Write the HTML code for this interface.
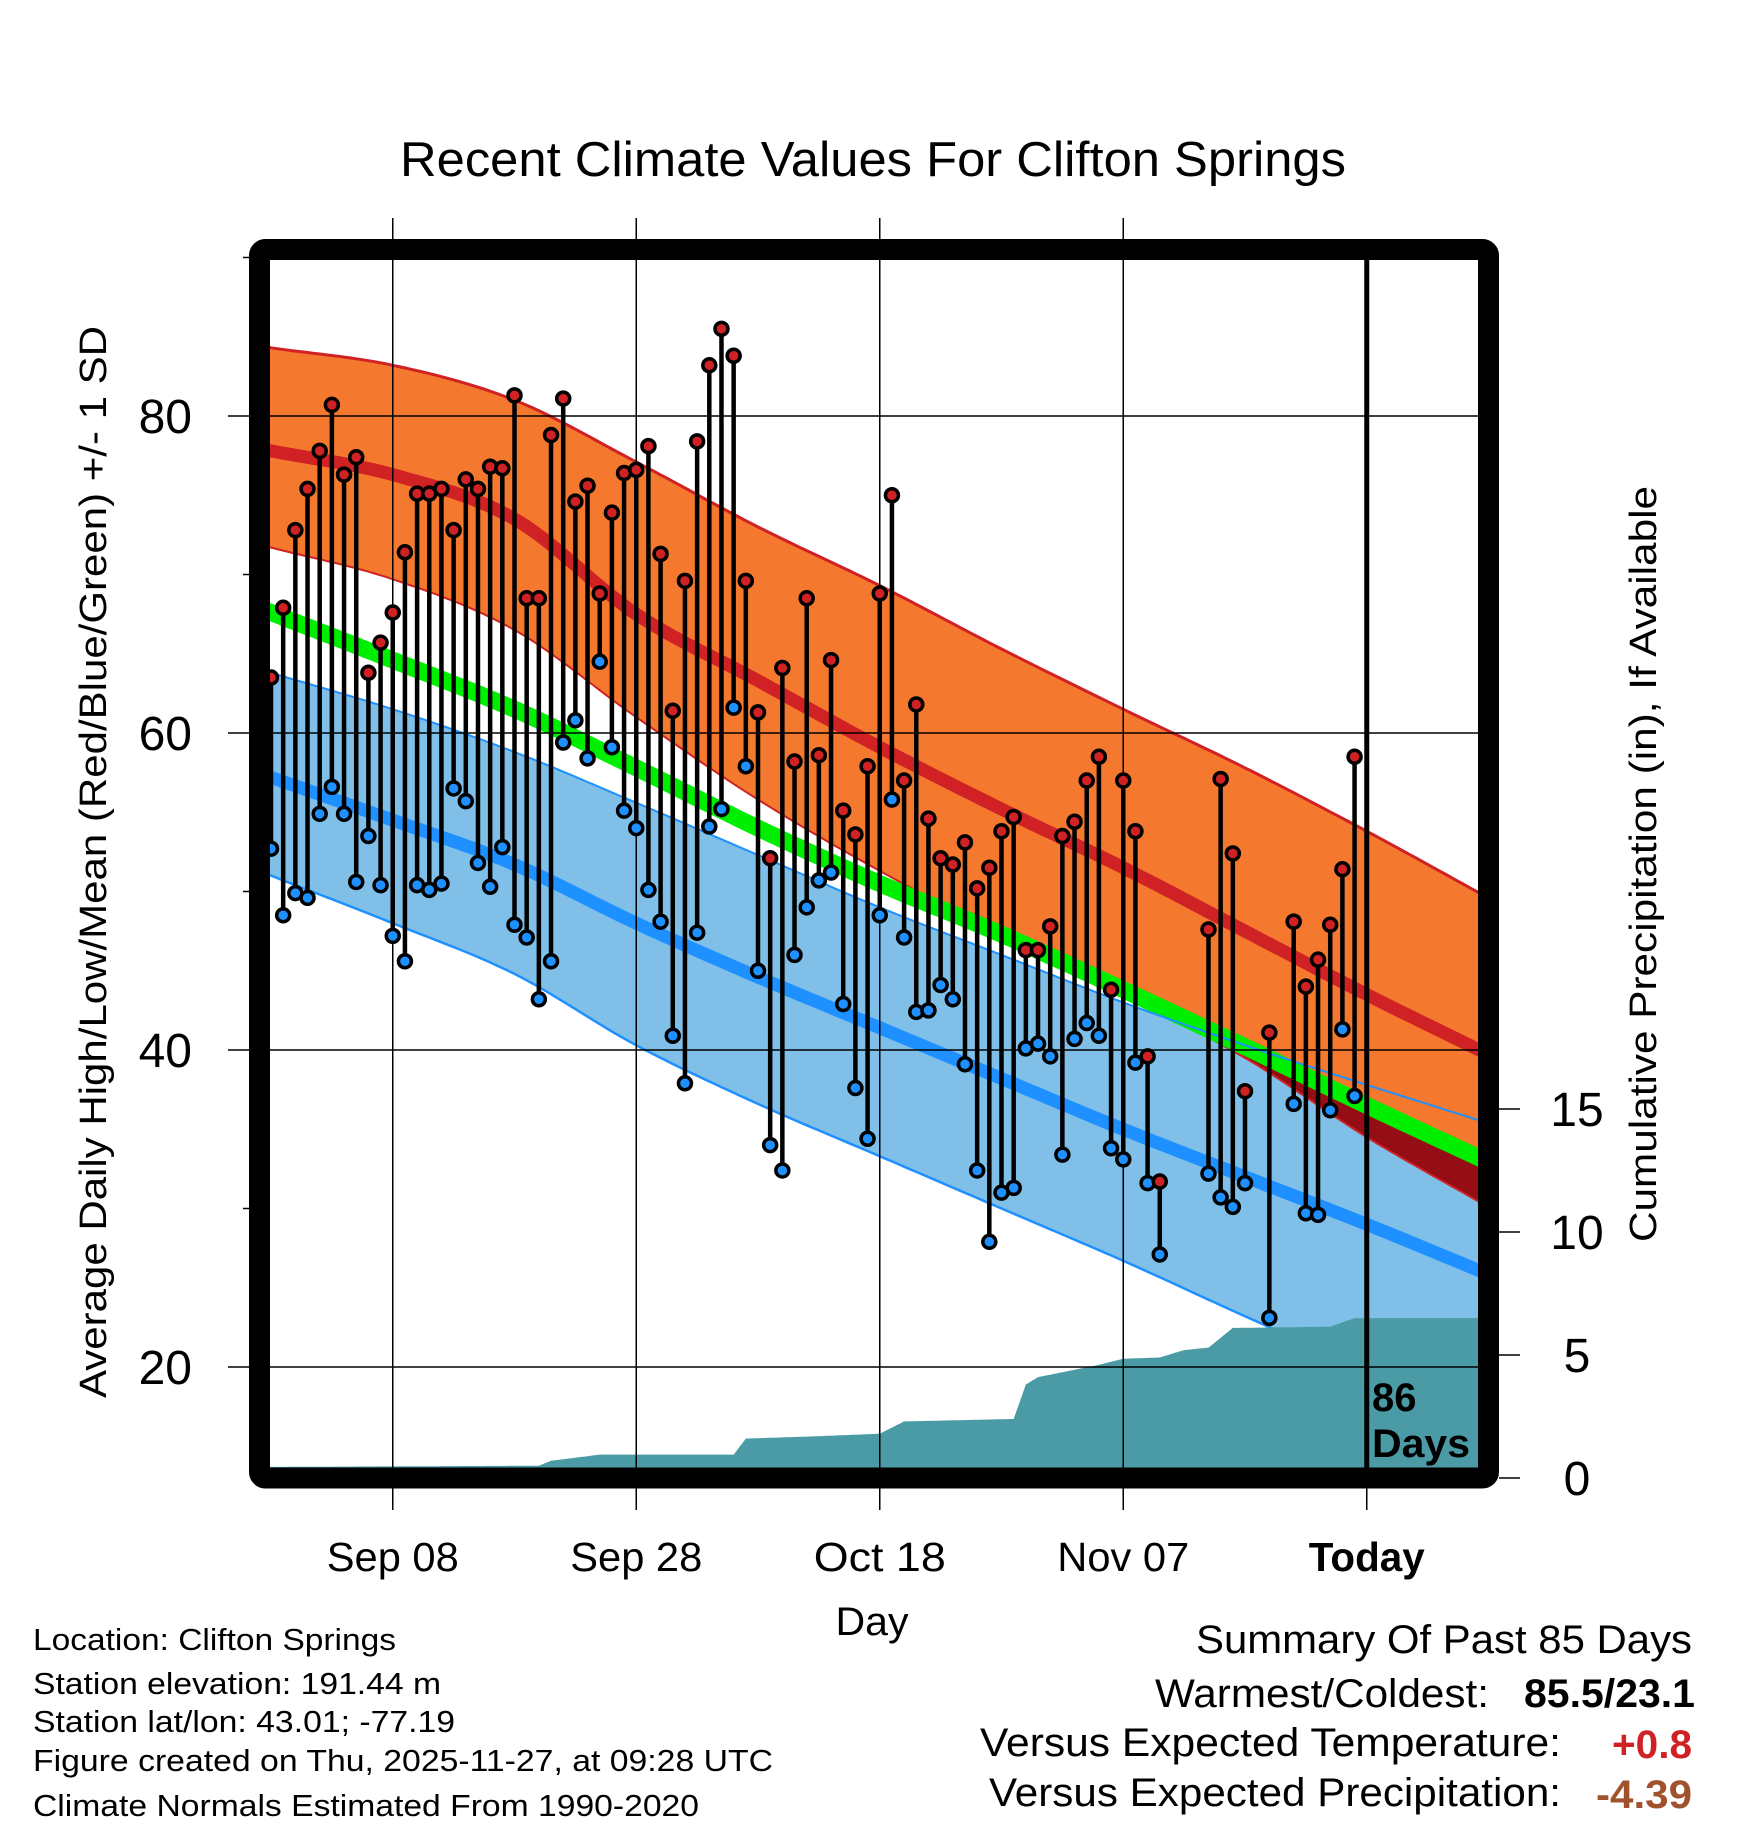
<!DOCTYPE html>
<html><head><meta charset="utf-8"><style>
html,body{margin:0;padding:0;background:#fff}
svg{display:block;font-family:"Liberation Sans",sans-serif}
</style></head><body>
<svg id="chart" width="1748" height="1828" viewBox="0 0 1748 1828" xmlns="http://www.w3.org/2000/svg">
<defs><clipPath id="plotclip"><rect x="270" y="260" width="1208" height="1208"/></clipPath></defs>
<rect width="1748" height="1828" fill="#fff"/>
<text x="873" y="176" font-size="49" text-anchor="middle" textLength="946" lengthAdjust="spacingAndGlyphs">Recent Climate Values For Clifton Springs</text>
<g id="bands" clip-path="url(#plotclip)"></g>
<g id="grid"></g>
<g id="marks" clip-path="url(#plotclip)"></g>
<g id="axes"></g>
<text transform="translate(106,862) rotate(-90)" font-size="38" text-anchor="middle" textLength="1072" lengthAdjust="spacingAndGlyphs">Average Daily High/Low/Mean (Red/Blue/Green) +/- 1 SD</text>
<text transform="translate(1656,864) rotate(-90)" font-size="38" text-anchor="middle" textLength="756" lengthAdjust="spacingAndGlyphs">Cumulative Precipitation (in), If Available</text>
<text x="872" y="1635" font-size="40" text-anchor="middle" textLength="73" lengthAdjust="spacingAndGlyphs">Day</text>
<g font-size="31">
<text x="33" y="1650" textLength="363" lengthAdjust="spacingAndGlyphs">Location: Clifton Springs</text>
<text x="33" y="1694" textLength="408" lengthAdjust="spacingAndGlyphs">Station elevation: 191.44 m</text>
<text x="33" y="1732" textLength="422" lengthAdjust="spacingAndGlyphs">Station lat/lon: 43.01; -77.19</text>
<text x="33" y="1771" textLength="740" lengthAdjust="spacingAndGlyphs">Figure created on Thu, 2025-11-27, at 09:28 UTC</text>
<text x="33" y="1816" textLength="666" lengthAdjust="spacingAndGlyphs">Climate Normals Estimated From 1990-2020</text>
</g>
<g font-size="40">
<text x="1196" y="1653" textLength="496" lengthAdjust="spacingAndGlyphs">Summary Of Past 85 Days</text>
<text x="1155" y="1707" textLength="334" lengthAdjust="spacingAndGlyphs">Warmest/Coldest:</text>
<text x="1524" y="1707" font-weight="bold" textLength="171" lengthAdjust="spacingAndGlyphs">85.5/23.1</text>
<text x="980" y="1756" textLength="581" lengthAdjust="spacingAndGlyphs">Versus Expected Temperature:</text>
<text x="1612" y="1758" font-weight="bold" fill="#d02224" textLength="80" lengthAdjust="spacingAndGlyphs">+0.8</text>
<text x="989" y="1806" textLength="572" lengthAdjust="spacingAndGlyphs">Versus Expected Precipitation:</text>
<text x="1596" y="1808" font-weight="bold" fill="#a0522d" textLength="96" lengthAdjust="spacingAndGlyphs">-4.39</text>
</g>
</svg>
<script>
const obsDays = [0,1,2,3,4,5,6,7,8,9,10,11,12,13,14,15,16,17,18,19,20,21,22,23,24,25,26,27,28,29,30,31,32,33,34,35,36,37,38,39,40,41,42,43,44,45,46,47,48,49,50,51,52,53,54,55,56,57,58,59,60,61,62,63,64,65,66,67,68,69,70,71,72,73,77,78,79,80,82,84,85,86,87,88,89];
const highs = [63.5,67.9,72.8,75.4,77.8,80.7,76.3,77.4,63.8,65.7,
67.6,71.4,75.1,75.1,75.4,72.8,76.0,75.4,76.8,76.7,
81.3,68.5,68.5,78.8,81.1,74.6,75.6,68.8,73.9,76.4,
76.6,78.1,71.3,61.4,69.6,78.4,83.2,85.5,83.8,69.6,
61.3,52.1,64.1,58.2,68.5,58.6,64.6,55.1,53.6,57.9,
68.8,75.0,57.0,61.8,54.6,52.1,51.7,53.1,50.2,51.5,
53.8,54.7,46.3,46.3,47.8,53.5,54.4,57.0,58.5,43.8,
57.0,53.8,39.6,31.7,
47.6,57.1,52.4,37.4,41.1,48.1,44.0,45.7,47.9,51.4,58.5];
const lows = [52.7,48.5,49.9,49.6,54.9,56.6,54.9,50.6,53.5,50.4,
47.2,45.6,50.4,50.1,50.5,56.5,55.7,51.8,50.3,52.8,
47.9,47.1,43.2,45.6,59.4,60.8,58.4,64.5,59.1,55.1,
54.0,50.1,48.1,40.9,37.9,47.4,54.1,55.2,61.6,57.9,
45.0,34.0,32.4,46.0,49.0,50.7,51.2,42.9,37.6,34.4,
48.5,55.8,47.1,42.4,42.5,44.1,43.2,39.1,32.4,27.9,
31.0,31.3,40.1,40.4,39.6,33.4,40.7,41.7,40.9,33.8,
33.1,39.2,31.6,27.1,
32.2,30.7,30.1,31.6,23.1,36.6,29.7,29.6,36.2,41.3,37.1];
const normDays = [0,10,20,30,40,50,60,70,80,90,99.5];
const highPlusSD = [84.3,83.2,81.0,77.1,73.0,69.3,65.3,61.5,57.8,53.8,49.8];
const highMean = [77.8,76.3,73.5,67.5,63.3,59.1,55.2,51.5,47.5,43.5,39.9];
const highMinusSD = [71.7,69.7,66.5,61.0,55.8,51.3,47.3,43.5,39.5,34.5,30.3];
const meanTemp = [67.6,64.6,61.5,57.8,54.0,50.5,47.3,43.8,40.2,36.5,33.1];
const lowPlusSD = [63.8,61.5,58.8,55.6,52.3,49.0,46.0,43.0,40.3,37.8,35.5];
const lowMean = [57.2,54.5,51.7,48.0,44.6,41.4,38.2,35.0,32.0,29.0,26.0];
const lowMinusSD = [51.0,48.0,44.8,40.3,36.6,33.3,30.0,26.7,23.2,19.8,16.6];
const precipDays = [0,22,23,27,38,39,45,50,52,61,62,63,65,68,70,73,75,77,79,87,89,99.5];
const precipVals = [0.45,0.5,0.7,0.95,0.95,1.6,1.7,1.8,2.3,2.4,3.8,4.1,4.3,4.6,4.85,4.9,5.2,5.3,6.1,6.15,6.5,6.5];
const xTickDays = [10,30,50,70,90];
const xTickLabels = ["Sep 08","Sep 28","Oct 18","Nov 07","Today"];
const yTicks = [20,40,60,80];
const yMinor = [30,50,70,90];
const pTicks = [0,5,10,15];

const NS="http://www.w3.org/2000/svg";
const X = d => 271 + d*12.175;
const Y = t => 416 + (80-t)*15.85;
const P = p => 1478 - p*24.6;
function mk(tag, attrs, parent){const e=document.createElementNS(NS,tag);for(const k in attrs)e.setAttribute(k,attrs[k]);parent.appendChild(e);return e;}
function interp(ds, vs, d){
  if(d<=ds[0])return vs[0];
  for(let i=1;i<ds.length;i++){if(d<=ds[i]){const f=(d-ds[i-1])/(ds[i]-ds[i-1]);return vs[i-1]+f*(vs[i]-vs[i-1]);}}
  return vs[vs.length-1];
}
function smooth(ds, vs, d){
  const n=ds.length;
  let i=1; while(i<n-1 && d>ds[i]) i++;
  const i0=i-1,i1=i;
  const t=Math.max(0,Math.min(1,(d-ds[i0])/(ds[i1]-ds[i0])));
  const slope=k=>{if(k<=0)return (vs[1]-vs[0])/(ds[1]-ds[0]);if(k>=n-1)return (vs[n-1]-vs[n-2])/(ds[n-1]-ds[n-2]);return (vs[k+1]-vs[k-1])/(ds[k+1]-ds[k-1]);};
  const h=ds[i1]-ds[i0];
  const m0=slope(i0)*h,m1=slope(i1)*h;
  const t2=t*t,t3=t2*t;
  let v=(2*t3-3*t2+1)*vs[i0]+(t3-2*t2+t)*m0+(-2*t3+3*t2)*vs[i1]+(t3-t2)*m1;
  if(d<ds[0]) v=vs[0]+slope(0)*(d-ds[0]);
  if(d>ds[n-1]) v=vs[n-1]+slope(n-1)*(d-ds[n-1]);
  return v;
}
const samp=[];for(let d=-1;d<=100;d+=0.5)samp.push(d);
function line(arr){return samp.map(d=>[X(d),Y(smooth(normDays,arr,d))]);}
function ptsStr(a){return a.map(p=>p[0].toFixed(1)+","+p[1].toFixed(1)).join(" ");}
function band(top,bot){return ptsStr(line(top).concat(line(bot).reverse()));}

const bands=document.getElementById('bands');
let e;
e=mk('polygon',{points:band(lowPlusSD,lowMinusSD),fill:'#80c0e8'},bands);

e=mk('polygon',{points:band(highPlusSD,highMinusSD),fill:'#f4792e'},bands);

const dr=samp.map(d=>{const g=smooth(normDays,meanTemp,d),l=smooth(normDays,highMinusSD,d);return [X(d),Y(Math.min(g,l)),Y(g)];});
e=mk('polygon',{points:dr.map(p=>p[0].toFixed(1)+","+p[2].toFixed(1)).join(" ")+" "+dr.slice().reverse().map(p=>p[0].toFixed(1)+","+p[1].toFixed(1)).join(" "),fill:'#950e15'},bands);

e=mk('polyline',{points:ptsStr(line(highPlusSD)),fill:'none',stroke:'#d02224','stroke-width':3},bands);

e=mk('polyline',{points:ptsStr(line(highMinusSD)),fill:'none',stroke:'#d02224','stroke-width':2},bands);

e=mk('polyline',{points:ptsStr(line(meanTemp)),fill:'none',stroke:'#00ee00','stroke-width':17},bands);

e=mk('polyline',{points:ptsStr(line(lowPlusSD)),fill:'none',stroke:'#1e90ff','stroke-width':2},bands);

e=mk('polyline',{points:ptsStr(line(lowMinusSD)),fill:'none',stroke:'#1e90ff','stroke-width':2.5},bands);

e=mk('polyline',{points:ptsStr(line(highMean)),fill:'none',stroke:'#d02224','stroke-width':13},bands);

e=mk('polyline',{points:ptsStr(line(lowMean)),fill:'none',stroke:'#1e90ff','stroke-width':13},bands);

let pp=[];for(let d=-1;d<=100;d+=0.25)pp.push([X(d),P(interp(precipDays,precipVals,d))]);
pp.push([X(100),1500]);pp.push([X(-1),1500]);
e=mk('polygon',{points:ptsStr(pp),fill:'#4a9ba5'},bands);


const grid=document.getElementById('grid');
yTicks.forEach(t=>{e=mk('line',{x1:228,x2:1478,y1:Y(t),y2:Y(t),stroke:'#000','stroke-width':1.5},grid);
});
xTickDays.forEach((d,i)=>{if(i<4){e=mk('line',{x1:X(d),x2:X(d),y1:218,y2:1510,stroke:'#000','stroke-width':1.5},grid);
}});

const marks=document.getElementById('marks');
obsDays.forEach((d,i)=>{
  e=mk('line',{x1:X(d),x2:X(d),y1:Y(highs[i]),y2:Y(lows[i]),stroke:'#000','stroke-width':4.5},marks);
  
});
obsDays.forEach((d,i)=>{
  e=mk('circle',{cx:X(d),cy:Y(lows[i]),r:6.5,fill:'#1e90ff',stroke:'#000','stroke-width':3.5},marks);
  
  e=mk('circle',{cx:X(d),cy:Y(highs[i]),r:6.5,fill:'#d02224',stroke:'#000','stroke-width':3.5},marks);
  
});

const axes=document.getElementById('axes');
e=mk('line',{x1:X(90),x2:X(90),y1:260,y2:1468,stroke:'#000','stroke-width':5},axes);

e=mk('line',{x1:X(90),x2:X(90),y1:1478,y2:1510,stroke:'#000','stroke-width':1.5},axes);

e=mk('text',{x:1372,y:1411,'font-size':40,'font-weight':'bold'},axes);e.textContent='86';

e=mk('text',{x:1372,y:1457,'font-size':40,'font-weight':'bold',textLength:98,lengthAdjust:'spacingAndGlyphs'},axes);e.textContent='Days';

e=mk('rect',{x:259.5,y:249.5,width:1229,height:1228.5,rx:6,fill:'none',stroke:'#000','stroke-width':21},axes);

yTicks.forEach(t=>{e=mk('text',{x:192,y:Y(t)+17,'font-size':48,'text-anchor':'end'},axes);e.textContent=String(t);
});
yMinor.forEach(t=>{e=mk('line',{x1:243,x2:250,y1:Y(t),y2:Y(t),stroke:'#000','stroke-width':1.5},axes);
});
pTicks.forEach(p=>{e=mk('line',{x1:1499,x2:1520,y1:P(p),y2:P(p),stroke:'#000','stroke-width':1.5},axes);

e=mk('text',{x:1577,y:P(p)+17,'font-size':48,'text-anchor':'middle'},axes);e.textContent=String(p);
});
xTickDays.forEach((d,i)=>{e=mk('text',{x:X(d),y:1571,'font-size':41,'text-anchor':'middle','font-weight':i==4?'bold':'normal',textLength:i==4?116:132,lengthAdjust:'spacingAndGlyphs'},axes);e.textContent=xTickLabels[i];
});
</script>
</body></html>
